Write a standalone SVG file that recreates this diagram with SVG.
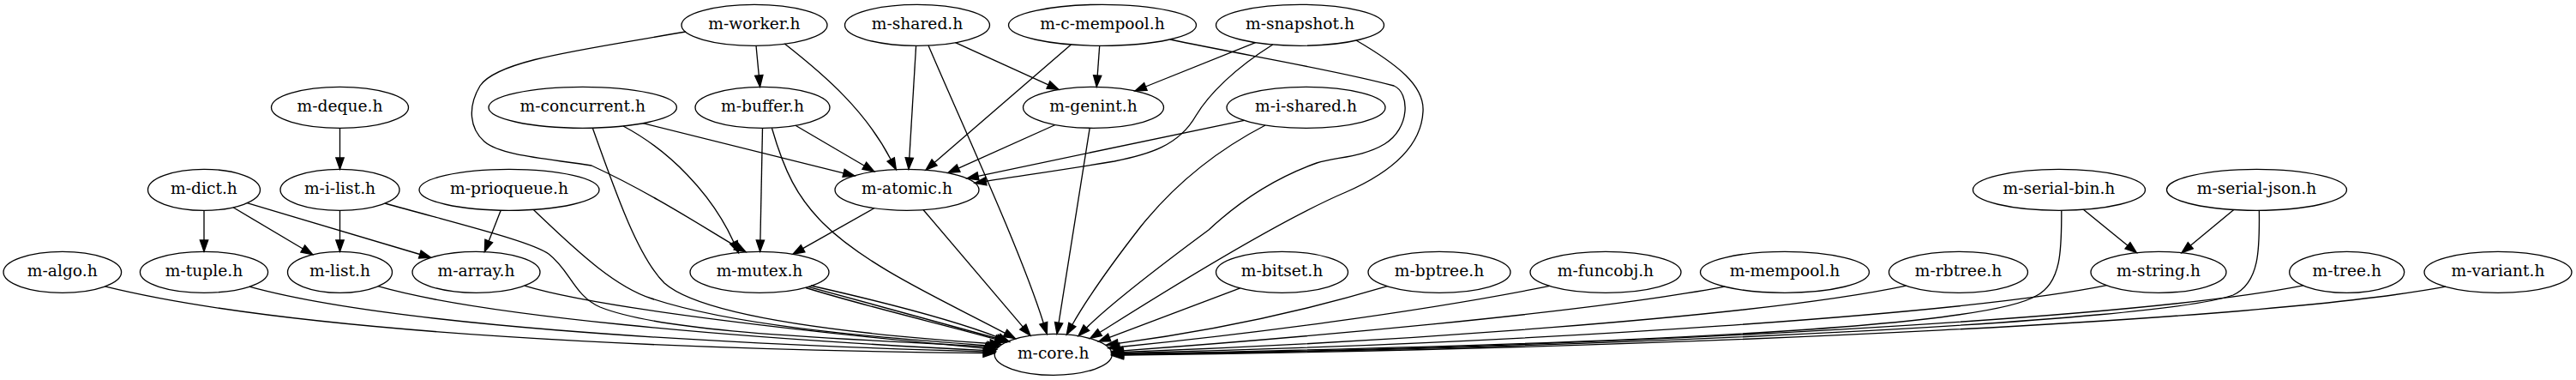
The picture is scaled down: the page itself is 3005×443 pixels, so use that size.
<svg xmlns="http://www.w3.org/2000/svg" width="3005" height="443" viewBox="0 0 3005 443">
<defs>
<style>
.n ellipse{fill:none;stroke:#000;stroke-width:1.33}
.n text{font-family:"DejaVu Serif",serif;font-size:18.67px;text-anchor:middle;fill:#000}
#edges path{fill:none;stroke:#000;stroke-width:1.33;marker-end:url(#ah)}
</style>
<marker id="ah" markerUnits="userSpaceOnUse" viewBox="0 0 13.33 9.33" refX="0" refY="4.667" markerWidth="13.33" markerHeight="9.33" orient="auto" overflow="visible">
<path d="M0,0 L13.33,4.667 L0,9.33 z" fill="#000" stroke="#000" stroke-width="1.33" stroke-linejoin="miter"/>
</marker>
</defs>
<rect width="3005" height="443" fill="#fff"/>
<g id="edges">
<path d="M882,53.3 L885.3,88"/>
<path d="M915.3,51.1 C965,90 1010,130 1039.2,186"/>
<path d="M800,37 C680,58 580,70 560,100 C545,125 548,150 565,165 C585,182 640,185 690,193 C760,225 824,267 858.5,287.1"/>
<path d="M1068.6,53.3 L1060.8,184"/>
<path d="M1114.5,49.7 L1222.9,98.9"/>
<path d="M1083,53 C1120,140 1190,290 1217.3,376.7"/>
<path d="M1282.7,53.3 L1280.2,88"/>
<path d="M1249.4,51.9 L1090.1,189.4"/>
<path d="M1365,46 C1450,64 1560,82 1626,100 C1645,108 1645,150 1615,168 C1590,183 1560,183 1536,190 C1480,210 1440,240 1410,268 C1360,305 1295.7,354 1267.4,382.2"/>
<path d="M1464.6,49.7 L1336.4,101"/>
<path d="M1484.7,52 C1440,80 1410,110 1395,135 C1375,170 1340,180 1300,188 C1240,198 1190,205 1150.2,211.3"/>
<path d="M1582,47 C1630,75 1662,100 1660,130 C1658,170 1625,200 1570,224 C1480,262 1317,366.3 1283,387.5"/>
<path d="M396.5,149.3 L396.5,184"/>
<path d="M750,143.7 L984.1,201.8"/>
<path d="M727,147 C780,175 830,225 856,282.5"/>
<path d="M691.3,149.2 C720,230 745,300 775,330 C820,370 1000,390 1155,400.5"/>
<path d="M928,146.2 L1008.3,193.2"/>
<path d="M889.5,149.3 L886.9,280"/>
<path d="M900.4,149.3 C915,200 930,230 960,260 C1010,310 1100,350 1172.5,388.4"/>
<path d="M1231,145.5 L1118.1,196.1"/>
<path d="M1271.2,149.3 L1235.1,376.2"/>
<path d="M1451.4,140.3 L1141.05,205.3"/>
<path d="M1476,146 C1420,175 1370,215 1330,265 C1295,310 1270,345 1250.9,378.5"/>
<path d="M238,245.3 L238,280"/>
<path d="M272,241.8 L353.3,290"/>
<path d="M288.3,236.7 L489.8,296.5"/>
<path d="M396.5,245.3 L396.5,280"/>
<path d="M449,237 C550,265 620,282 640,296 C665,315 670,345 700,358 C780,390 1000,395 1150.3,404"/>
<path d="M584.2,245.2 L570.2,281"/>
<path d="M622.4,244.4 C680,300 720,335 760,348 C850,378 1000,392 1151.8,402.8"/>
<path d="M1019.8,242.7 L936.6,289.7"/>
<path d="M1077.2,244.7 L1193.3,381.1"/>
<path d="M2430.4,244.3 L2482,286.2"/>
<path d="M2404.8,245.5 C2405,290 2405,330 2375,345 C2300,390 1700,405 1310.5,412.5"/>
<path d="M2605.8,244.5 L2555.3,286.2"/>
<path d="M2635.4,245.5 C2636,290 2636,330 2605,344 C2520,375 1900,405 1310.5,413.5"/>
<path d="M122.4,333.9 C350,390 800,408 1147,411.6"/>
<path d="M290.8,334.2 C450,378 800,400 1147.5,410"/>
<path d="M441,333.7 C560,368 850,394 1148,408.4"/>
<path d="M612,333.1 C700,360 950,388 1149.2,406"/>
<path d="M940,335.5 C1020,360 1100,378 1161.1,395.4"/>
<path d="M943,334.3 L1163.1,394.5"/>
<path d="M946,333 C1030,352 1110,372 1165.2,393.6"/>
<path d="M1446.7,335.9 L1294.2,393.4"/>
<path d="M1618.3,333.7 C1530,360 1420,385 1304,400.3"/>
<path d="M1807.7,333.4 C1650,365 1450,390 1306.1,404.5"/>
<path d="M2011.7,334.2 C1850,365 1500,395 1309.8,408.8"/>
<path d="M2223.5,333.1 C2050,370 1600,400 1310.3,410.4"/>
<path d="M2457.4,332.7 C2300,365 1800,400 1310.5,411.5"/>
<path d="M2686.7,332.9 C2500,370 1900,405 1310.5,413"/>
<path d="M2853,334.2 C2650,372 2000,405 1310.5,414.2"/>
</g>
<g id="n-worker" class="n"><ellipse cx="880" cy="29.3" rx="85" ry="24"/><text x="880" y="34.3">m-worker.h</text></g>
<g id="n-shared" class="n"><ellipse cx="1070" cy="29.3" rx="84.5" ry="24"/><text x="1070" y="34.3">m-shared.h</text></g>
<g id="n-c-mempool" class="n"><ellipse cx="1286" cy="29.3" rx="109.5" ry="24"/><text x="1286" y="34.3">m-c-mempool.h</text></g>
<g id="n-snapshot" class="n"><ellipse cx="1516.5" cy="29.3" rx="98" ry="24"/><text x="1516.5" y="34.3">m-snapshot.h</text></g>
<g id="n-deque" class="n"><ellipse cx="396.5" cy="125.3" rx="80" ry="24"/><text x="396.5" y="130.3">m-deque.h</text></g>
<g id="n-concurrent" class="n"><ellipse cx="679.7" cy="125.3" rx="109.7" ry="24"/><text x="679.7" y="130.3">m-concurrent.h</text></g>
<g id="n-buffer" class="n"><ellipse cx="889.5" cy="125.3" rx="78.5" ry="24"/><text x="889.5" y="130.3">m-buffer.h</text></g>
<g id="n-genint" class="n"><ellipse cx="1275.5" cy="125.3" rx="82" ry="24"/><text x="1275.5" y="130.3">m-genint.h</text></g>
<g id="n-i-shared" class="n"><ellipse cx="1523.5" cy="125.3" rx="92.5" ry="24"/><text x="1523.5" y="130.3">m-i-shared.h</text></g>
<g id="n-dict" class="n"><ellipse cx="238" cy="221.3" rx="65.5" ry="24"/><text x="238" y="226.3">m-dict.h</text></g>
<g id="n-i-list" class="n"><ellipse cx="396.5" cy="221.3" rx="69.5" ry="24"/><text x="396.5" y="226.3">m-i-list.h</text></g>
<g id="n-prioqueue" class="n"><ellipse cx="594" cy="221.3" rx="105" ry="24"/><text x="594" y="226.3">m-prioqueue.h</text></g>
<g id="n-atomic" class="n"><ellipse cx="1058" cy="221.3" rx="84" ry="24"/><text x="1058" y="226.3">m-atomic.h</text></g>
<g id="n-serial-bin" class="n"><ellipse cx="2402" cy="221.3" rx="100.5" ry="24"/><text x="2402" y="226.3">m-serial-bin.h</text></g>
<g id="n-serial-json" class="n"><ellipse cx="2632.5" cy="221.3" rx="105" ry="24"/><text x="2632.5" y="226.3">m-serial-json.h</text></g>
<g id="n-algo" class="n"><ellipse cx="72.8" cy="317.3" rx="68.8" ry="24"/><text x="72.8" y="322.3">m-algo.h</text></g>
<g id="n-tuple" class="n"><ellipse cx="238" cy="317.3" rx="74.6" ry="24"/><text x="238" y="322.3">m-tuple.h</text></g>
<g id="n-list" class="n"><ellipse cx="396.5" cy="317.3" rx="61" ry="24"/><text x="396.5" y="322.3">m-list.h</text></g>
<g id="n-array" class="n"><ellipse cx="555.5" cy="317.3" rx="74.5" ry="24"/><text x="555.5" y="322.3">m-array.h</text></g>
<g id="n-mutex" class="n"><ellipse cx="886" cy="317.3" rx="81" ry="24"/><text x="886" y="322.3">m-mutex.h</text></g>
<g id="n-bitset" class="n"><ellipse cx="1495.5" cy="317.3" rx="77" ry="24"/><text x="1495.5" y="322.3">m-bitset.h</text></g>
<g id="n-bptree" class="n"><ellipse cx="1679" cy="317.3" rx="83" ry="24"/><text x="1679" y="322.3">m-bptree.h</text></g>
<g id="n-funcobj" class="n"><ellipse cx="1873" cy="317.3" rx="88" ry="24"/><text x="1873" y="322.3">m-funcobj.h</text></g>
<g id="n-mempool" class="n"><ellipse cx="2082" cy="317.3" rx="98.5" ry="24"/><text x="2082" y="322.3">m-mempool.h</text></g>
<g id="n-rbtree" class="n"><ellipse cx="2284.5" cy="317.3" rx="81" ry="24"/><text x="2284.5" y="322.3">m-rbtree.h</text></g>
<g id="n-string" class="n"><ellipse cx="2518" cy="317.3" rx="79" ry="24"/><text x="2518" y="322.3">m-string.h</text></g>
<g id="n-tree" class="n"><ellipse cx="2737.7" cy="317.3" rx="67" ry="24"/><text x="2737.7" y="322.3">m-tree.h</text></g>
<g id="n-variant" class="n"><ellipse cx="2914" cy="317.3" rx="86" ry="24"/><text x="2914" y="322.3">m-variant.h</text></g>
<g id="n-core" class="n"><ellipse cx="1228.7" cy="413.3" rx="68.5" ry="24"/><text x="1228.7" y="418.3">m-core.h</text></g>
</svg>
